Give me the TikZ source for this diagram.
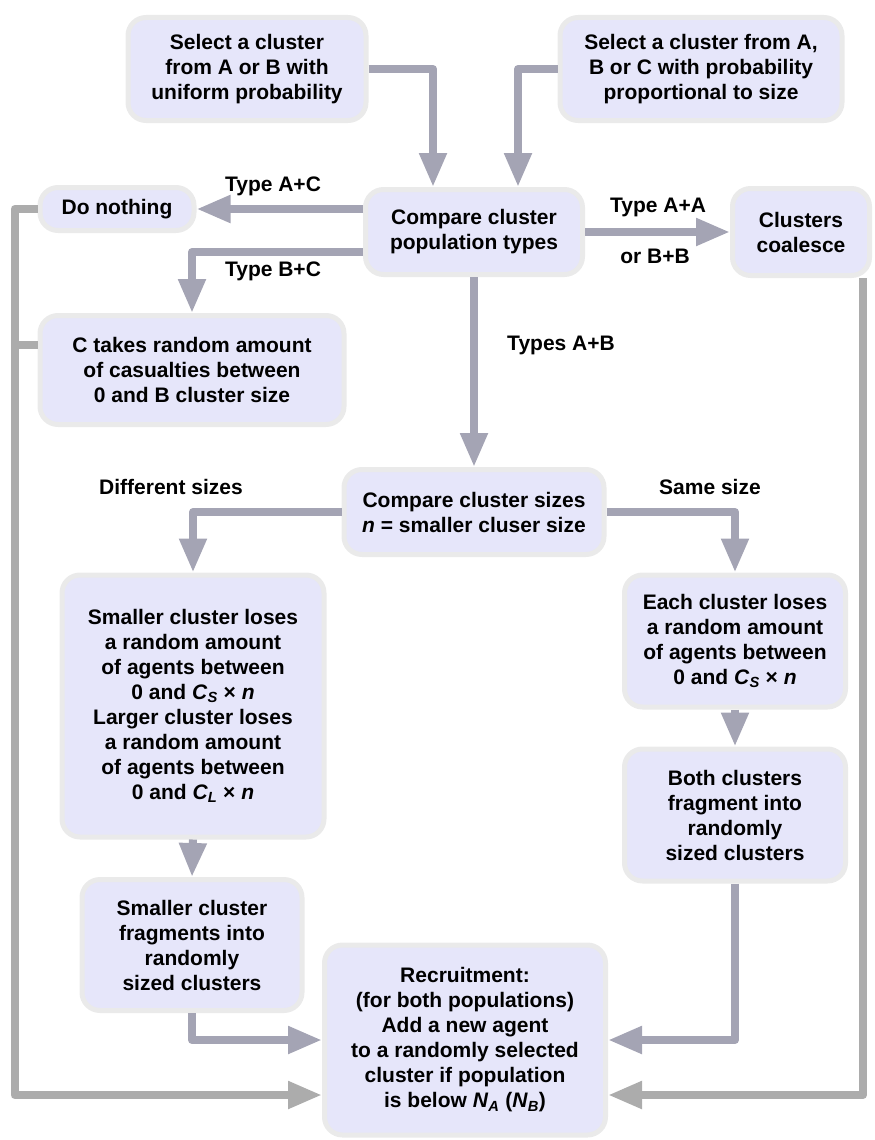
\documentclass[tikz,border=0pt]{standalone}
\usepackage{fontspec}
\setmainfont{Liberation Sans}
\usetikzlibrary{arrows.meta}
\definecolor{boxfill}{RGB}{230,230,250}
\definecolor{boxline}{RGB}{234,234,234}
\definecolor{flowgray}{RGB}{164,164,180}
\definecolor{backgray}{RGB}{172,172,172}
\tikzset{
    stagebox/.style={draw=boxline, line width=5pt, fill=boxfill, rounded corners=18pt, align=center, inner sep=0pt},
    flow/.style={draw=flowgray, line width=8pt, line join=round, -{Triangle[length=34pt,width=26pt]}},
    backflow/.style={flow, draw=backgray},
    edgelabel/.style={inner sep=0pt},
}
\begin{document}
\begin{tikzpicture}[x=1pt, y=-1pt, font=\fontsize{21}{25}\selectfont\bfseries]
    \useasboundingbox (0,0) rectangle (875,1140);
    \node[stagebox, minimum width=238pt, minimum height=103pt] (sel1) at (247,69) {Select a cluster\\from A or B with\\uniform probability};
    \node[stagebox, minimum width=282pt, minimum height=103pt] (sel2) at (701,69) {Select a cluster from A,\\B or C with probability\\proportional to size};
    \node[stagebox, minimum width=217pt, minimum height=85pt] (cmp) at (474,232) {Compare cluster\\population types};
    \node[stagebox, minimum width=154pt, minimum height=43pt] (nothing) at (117,209) {Do nothing};
    \node[stagebox, minimum width=137pt, minimum height=87pt] (coal) at (801,232) {Clusters\\coalesce};
    \node[stagebox, minimum width=304pt, minimum height=109pt] (cas) at (192,370) {C takes random amount\\of casualties between\\0 and B cluster size};
    \node[stagebox, minimum width=260pt, minimum height=85pt] (csz) at (474,512) {Compare cluster sizes\\\textit{n} = smaller cluser size};
    \node[stagebox, minimum width=262pt, minimum height=262pt] (diff) at (193,706) {Smaller cluster loses\\a random amount\\of agents between\\0 and \textit{C}\textsubscript{\textit{S}} × \textit{n}\\Larger cluster loses\\a random amount\\of agents between\\0 and \textit{C}\textsubscript{\textit{L}} × \textit{n}};
    \node[stagebox, minimum width=221pt, minimum height=132pt] (each) at (735,641) {Each cluster loses\\a random amount\\of agents between\\0 and \textit{C}\textsubscript{\textit{S}} × \textit{n}};
    \node[stagebox, minimum width=221pt, minimum height=132pt] (both) at (735,815) {Both clusters\\fragment into\\randomly\\sized clusters};
    \node[stagebox, minimum width=220pt, minimum height=131pt] (frag) at (192,945) {Smaller cluster\\fragments into\\randomly\\sized clusters};
    \node[stagebox, minimum width=281pt, minimum height=190pt] (rec) at (465,1040) {Recruitment:\\(for both populations)\\Add a new agent\\to a randomly selected\\cluster if population\\is below \textit{N}\textsubscript{\textit{A}} (\textit{N}\textsubscript{\textit{B}})};

    \node[edgelabel] (tac) at (273,186) {Type A+C};
    \node[edgelabel] (tbc) at (273,271) {Type B+C};
    \node[edgelabel] (taa) at (658,207) {Type A+A};
    \node[edgelabel] (tbb) at (655,256) {or B+B};
    \node[edgelabel] (tab) at (561,345) {Types A+B};
    \node[edgelabel] (dsz) at (171,487) {Different sizes};
    \node[edgelabel] (ssz) at (710,487) {Same size};

    \draw[flow] (sel1.east) -| ([xshift=-41pt]cmp.north);
    \draw[flow] (sel2.west) -| ([xshift=44pt]cmp.north);
    \draw[flow] ([yshift=23pt]cmp.west) -- (nothing.east);
    \draw[flow] ([yshift=-20pt]cmp.west) -| (cas.north);
    \draw[flow] (cmp.east) -- (coal.west);
    \draw[flow] (cmp.south) -- (csz.north);
    \draw[flow] (csz.west) -| (diff.north);
    \draw[flow] (csz.east) -| (each.north);
    \draw[flow] (each.south) -- (both.north);
    \draw[flow] (diff.south) -- (frag.north);
    \draw[flow] (frag.south) |- (rec.west);
    \draw[flow] (both.south) |- (rec.east);
    \draw[backflow] (nothing.west) -- ++(-23pt,0) |- ([yshift=-55pt]rec.west);
    \draw[backflow, -] ([yshift=25pt]cas.west) -- ++(-23pt,0);
    \draw[backflow] ([xshift=62pt]coal.south) |- ([yshift=-55pt]rec.east);
\end{tikzpicture}
\end{document}
